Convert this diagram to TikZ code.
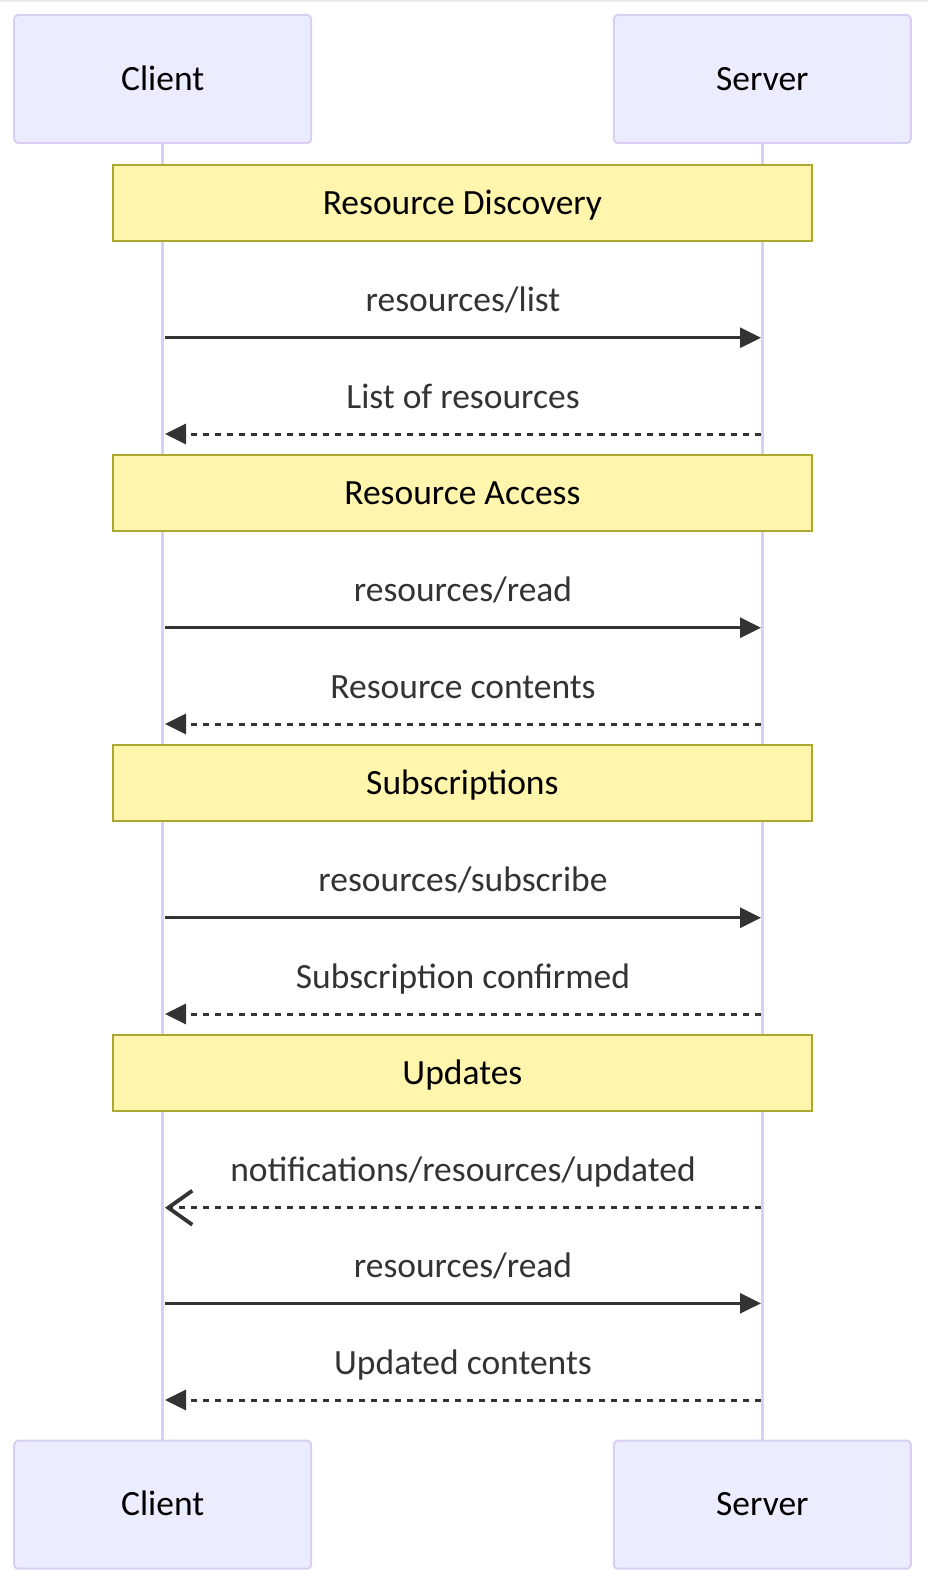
\documentclass[tikz,border=0pt]{standalone}
\usepackage{fontspec}
\setmainfont{Carlito}
\usetikzlibrary{arrows.meta}
\definecolor{actfill}{HTML}{ECECFF}
\definecolor{actline}{HTML}{D9CEF3}
\definecolor{notefill}{HTML}{FFF5AD}
\definecolor{noteline}{HTML}{AAAA33}
\definecolor{msgcol}{HTML}{333333}
\definecolor{topgray}{HTML}{EBEBEB}
\begin{document}
\begin{tikzpicture}[x=1pt,y=-1pt,
  actor/.style={draw=actline, fill=actfill, line width=2pt, rounded corners=4pt,
    minimum width=297pt, minimum height=128pt, inner sep=0pt,
    text height=22.5pt, text depth=0pt, font=\fontsize{35.5}{41}\selectfont, text=black},
  notebox/.style={draw=noteline, fill=notefill, line width=2pt,
    minimum width=698.7pt, minimum height=76pt, inner sep=0pt,
    text height=22.5pt, text depth=0pt, font=\fontsize{35.5}{41}\selectfont, text=black},
  lifeline/.style={draw=actline, line width=3.5pt},
  msgsolid/.style={draw=msgcol, line width=3pt, -{Triangle[length=21pt,width=20pt]}},
  msgdash/.style={draw=msgcol, line width=3pt, dash pattern=on 6pt off 6pt, -{Triangle[length=21pt,width=20pt]}},
  msgopen/.style={draw=msgcol, line width=3pt, dash pattern=on 6pt off 6pt, -{Straight Barb[length=24pt,width=34pt,line width=3.8pt]}},
  msglabel/.style={anchor=base, yshift=26pt, inner sep=0pt, text=msgcol, font=\fontsize{35.5}{41}\selectfont}
]
\useasboundingbox (0,0) rectangle (928,1586);
\fill[topgray] (0,0) rectangle (928,2);

% actors
\node[actor] (ct) at (162.7,79) {Client};
\node[actor] (st) at (762.3,79) {Server};
\node[actor] (cb) at (162.7,1504.7) {Client};
\node[actor] (sb) at (762.3,1504.7) {Server};

% lifelines
\draw[lifeline] (ct.south) -- (cb.north);
\draw[lifeline] (st.south) -- (sb.north);

% notes
\node[notebox] (n1) at (462.4,203) {Resource Discovery};
\node[notebox] (n2) at (462.4,493) {Resource Access};
\node[notebox] (n3) at (462.4,783) {Subscriptions};
\node[notebox] (n4) at (462.4,1073) {Updates};

% message end points on the lifelines
\foreach \i/\y in {1/337.7,2/434,3/627.7,4/724,5/917.7,6/1014,7/1207.7,8/1303.3,9/1400}{
  \coordinate (c\i) at (165,\y);
  \coordinate (s\i) at (761,\y);
}

\draw[msgsolid] (c1) -- (s1) node[midway,msglabel] {resources/list};
\draw[msgdash] (s2) -- (c2) node[midway,msglabel] {List of resources};
\draw[msgsolid] (c3) -- (s3) node[midway,msglabel] {resources/read};
\draw[msgdash] (s4) -- (c4) node[midway,msglabel] {Resource contents};
\draw[msgsolid] (c5) -- (s5) node[midway,msglabel] {resources/subscribe};
\draw[msgdash] (s6) -- (c6) node[midway,msglabel] {Subscription confirmed};
\draw[msgopen] (s7) -- (c7) node[midway,msglabel] {notifications/resources/updated};
\draw[msgsolid] (c8) -- (s8) node[midway,msglabel] {resources/read};
\draw[msgdash] (s9) -- (c9) node[midway,msglabel] {Updated contents};
\end{tikzpicture}
\end{document}
